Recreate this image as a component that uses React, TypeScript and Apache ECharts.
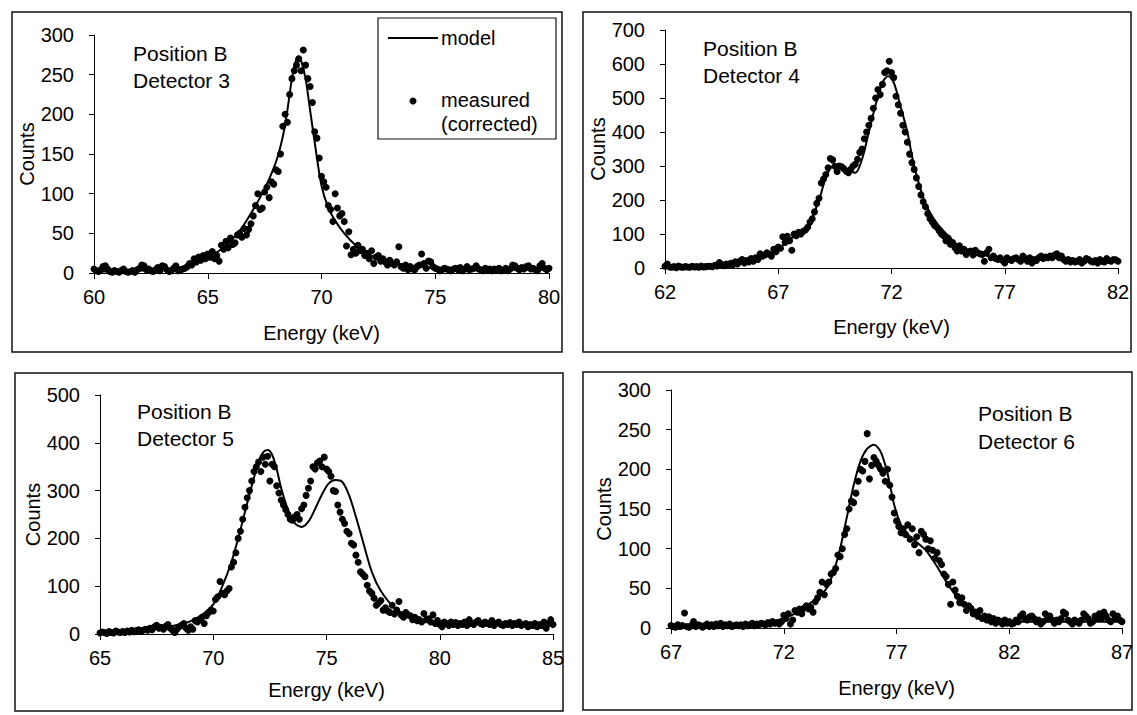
import React, { useEffect, useRef } from "react";
import * as echarts from "echarts";

const FONT = '"Liberation Sans", Arial, Helvetica, sans-serif';

// ---------------- data ----------------
const channelStep = 0.1;
const det3Start = 60;
const det4Start = 62;
const det5Start = 65;
const det6Start = 67;

// Detector 3 (60.0 .. 80.0 keV, 0.1 keV channels)
const det3Measured = [
  5, 3, 2, 4, 8, 9, 5, 2, 1, 3,
  2, 1, 3, 5, 2, 1, 2, 3, 1, 4,
  6, 10, 9, 4, 5, 3, 2, 4, 7, 3,
  9, 8, 4, 2, 3, 6, 9, 3, 4, 5,
  6, 8, 12, 10, 18, 14, 20, 16, 22, 18,
  24, 20, 27, 18, 22, 15, 35, 30, 40, 32,
  44, 36, 38, 48, 50, 45, 56, 48, 55, 62,
  72, 85, 100, 80, 82, 102, 108, 95, 115, 112,
  130, 128, 150, 185, 200, 190, 225, 245, 255, 262,
  270, 255, 281, 262, 245, 235, 215, 178, 170, 145,
  122, 115, 108, 85, 80, 65, 100, 82, 72, 75,
  65, 34, 52, 23, 30, 25, 35, 28, 30, 22,
  25, 18, 28, 12, 20, 22, 15, 18, 14, 10,
  16, 12, 10, 14, 33, 8, 6, 10, 4, 8,
  5, 4, 8, 10, 24, 12, 6, 15, 14, 8,
  6, 5, 3, 4, 6, 5, 4, 3, 5, 6,
  4, 7, 3, 5, 8, 4, 5, 6, 9, 5,
  4, 3, 6, 4, 5, 3, 5, 4, 6, 3,
  4, 6, 3, 5, 10, 9, 6, 4, 7, 5,
  8, 9, 5, 6, 4, 3, 9, 12, 6, 4,
  6,
];
const det3ModelEnergy = [60, 61, 62, 63, 64, 64.5, 65, 65.5, 66, 66.5, 67, 67.5, 68, 68.3, 68.5, 68.7, 68.9, 69.0, 69.1, 69.3, 69.5, 69.7, 70.0, 70.3, 70.6, 71.0, 71.5, 72.0, 72.5, 73.0, 73.5, 74, 75, 76, 77, 78, 79, 80];
const det3ModelCounts = [2, 2, 3, 4, 8, 13, 20, 28, 40, 57, 80, 106, 140, 172, 205, 245, 270, 273, 268, 245, 205, 165, 110, 82, 66, 50, 35, 25, 18, 14, 11, 9, 6, 5, 4, 4, 4, 4];

// Detector 4 (62.0 .. 82.0 keV)
const det4Measured = [
  5, 12, 3, 2, 4, 1, 6, 3, 2, 4,
  3, 2, 5, 3, 4, 2, 6, 3, 4, 5,
  5, 4, 8, 6, 16, 10, 7, 12, 8, 14,
  10, 18, 12, 20, 25, 15, 22, 18, 28, 20,
  30, 25, 42, 35, 38, 45, 40, 35, 55, 48,
  62, 58, 92, 75, 93, 80, 52, 100, 95, 105,
  100, 108, 112, 120, 135, 145, 165, 190, 205, 250,
  262, 275, 295, 322, 318, 299, 284, 300, 298, 292,
  285, 280, 290, 300, 305, 320, 340, 350, 380, 400,
  420, 440, 470, 500, 525, 510, 540, 575, 580, 608,
  575, 560, 505, 480, 455, 420, 400, 370, 335, 310,
  290, 265, 240, 215, 195, 180, 160, 145, 135, 125,
  120, 110, 100, 95, 80, 88, 70, 75, 60, 50,
  65, 50, 55, 40, 48, 50, 38, 52, 45, 42,
  40, 20, 45, 55, 30, 35, 28, 25, 30, 22,
  15, 30, 25, 22, 28, 30, 25, 20, 35, 28,
  20, 30, 15, 25, 22, 30, 35, 28, 32, 30,
  35, 30, 38, 42, 30, 35, 25, 20, 25, 18,
  22, 18, 20, 25, 15, 20, 28, 25, 20, 18,
  22, 15, 25, 20, 18, 28, 22, 20, 25, 24,
  20,
];
const det4ModelEnergy = [62, 63, 64, 65, 66, 66.5, 67, 67.5, 68, 68.4, 68.8, 69.1, 69.4, 69.7, 70.0, 70.4, 70.7, 71.0, 71.3, 71.6, 71.85, 72.1, 72.4, 72.7, 73.0, 73.5, 74.0, 74.6, 75.0, 75.8, 76.5, 77.5, 78.5, 79.5, 80.5, 81.5, 82];
const det4ModelCounts = [2, 3, 6, 12, 25, 38, 55, 85, 102, 135, 200, 265, 298, 297, 290, 280, 320, 400, 480, 545, 565, 545, 475, 400, 300, 190, 132, 88, 64, 44, 32, 28, 28, 30, 24, 20, 20];

// Detector 5 (65.0 .. 85.0 keV)
const det5Measured = [
  2, 4, 3, 1, 5, 3, 2, 6, 4, 3,
  5, 3, 6, 4, 8, 5, 7, 9, 6, 8,
  10, 8, 12, 9, 15, 18, 12, 14, 10, 16,
  20, 12, 8, 3, 10, 15, 18, 22, 12, 8,
  15, 10, 28, 25, 30, 35, 22, 38, 45, 50,
  48, 72, 78, 110, 85, 82, 90, 95, 140, 150,
  170, 200, 215, 240, 265, 285, 300, 320, 340, 350,
  360, 340, 370, 355, 372, 320, 355, 350, 310, 295,
  280, 270, 260, 250, 240, 238, 245, 250, 240, 262,
  270, 290, 305, 320, 350, 345, 358, 362, 350, 370,
  345, 340, 330, 300, 298, 270, 255, 240, 231, 215,
  210, 190, 186, 165, 150, 130, 125, 120, 102, 90,
  85, 75, 60, 65, 70, 50, 55, 48, 45, 60,
  42, 50, 68, 40, 35, 45, 40, 38, 30, 35,
  28, 30, 25, 43, 30, 32, 25, 40, 22, 28,
  20, 15, 25, 22, 18, 25, 20, 24, 18, 22,
  20, 25, 18, 30, 22, 20, 25, 28, 22, 20,
  25, 22, 20, 28, 18, 22, 25, 20, 18, 22,
  20, 24, 18, 22, 20, 25, 18, 20, 22, 15,
  20, 18, 22, 15, 20, 18, 25, 12, 22, 30,
  20,
];
const det5ModelEnergy = [65, 66, 67, 68, 68.5, 69, 69.5, 70, 70.4, 70.8, 71.1, 71.4, 71.7, 72.0, 72.2, 72.4, 72.6, 72.8, 73.0, 73.3, 73.6, 73.9, 74.2, 74.5, 74.8, 75.1, 75.4, 75.7, 76.0, 76.3, 76.6, 77.0, 77.4, 78.0, 78.6, 79.2, 80, 81, 82, 83, 84, 85];
const det5ModelCounts = [2, 5, 8, 15, 20, 27, 40, 62, 100, 150, 200, 255, 310, 360, 380, 385, 375, 345, 305, 260, 232, 224, 235, 262, 292, 315, 322, 318, 290, 245, 195, 130, 90, 55, 38, 30, 25, 22, 20, 20, 20, 20];

// Detector 6 (67.0 .. 87.0 keV)
const det6Measured = [
  3, 2, 1, 4, 2, 3, 19, 2, 1, 3,
  8, 2, 4, 3, 1, 3, 5, 2, 4, 2,
  5, 3, 6, 2, 4, 3, 5, 2, 3, 4,
  3, 4, 2, 5, 3, 4, 6, 3, 5, 4,
  6, 5, 4, 7, 5, 8, 6, 7, 5, 8,
  16, 12, 18, 5, 10, 22, 20, 24, 18, 25,
  28, 24, 26, 20, 33, 38, 45, 58, 42, 55,
  58, 68, 70, 75, 92, 90, 100, 118, 125, 150,
  160, 158, 170, 185, 200, 198, 210, 245, 188, 205,
  215, 210, 205, 200, 195, 185, 200, 180, 165, 145,
  135, 128, 120, 125, 118, 130, 112, 125, 105, 115,
  95, 122, 118, 112, 100, 110, 98, 88, 95, 85,
  80, 68, 65, 55, 30, 58, 48, 40, 32, 38,
  30, 22, 28, 25, 18, 20, 15, 22, 12, 15,
  10, 14, 8, 12, 6, 10, 8, 5, 10, 6,
  8, 5, 6, 10, 8, 15, 18, 12, 10, 14,
  15, 12, 8, 10, 5, 8, 18, 12, 15, 10,
  6, 10, 8, 12, 20, 18, 10, 8, 5, 10,
  8, 6, 10, 18, 15, 12, 6, 8, 15, 12,
  18, 12, 20, 15, 10, 8, 18, 12, 15, 10,
  8,
];
const det6ModelEnergy = [67, 68, 69, 70, 71, 71.5, 72, 72.5, 73, 73.5, 73.9, 74.2, 74.5, 74.8, 75.1, 75.4, 75.7, 76.0, 76.3, 76.6, 76.9, 77.2, 77.5, 77.9, 78.3, 78.7, 79.0, 79.4, 79.8, 80.2, 80.7, 81.2, 82, 83, 84, 85, 86, 87];
const det6ModelCounts = [2, 3, 3, 4, 6, 8, 12, 18, 28, 38, 50, 70, 100, 140, 180, 210, 226, 231, 222, 195, 155, 130, 118, 108, 98, 82, 68, 50, 35, 24, 15, 10, 8, 8, 8, 8, 8, 8];

// axes / labels
const detectorNames = ["Detector 3", "Detector 4", "Detector 5", "Detector 6"];
const positionName = "Position B";
const xAxisName = "Energy (keV)";
const yAxisName = "Counts";
const legendModel = "model";
const legendMeasured = "measured";
const legendMeasured2 = "(corrected)";
const xRanges = [
  [60, 80],
  [62, 82],
  [65, 85],
  [67, 87],
];
const xInterval = 5;
const yMaxes = [300, 700, 500, 300];
const yIntervals = [50, 100, 100, 50];

const measuredSets = [
  { start: det3Start, values: det3Measured },
  { start: det4Start, values: det4Measured },
  { start: det5Start, values: det5Measured },
  { start: det6Start, values: det6Measured },
];
const modelSets = [
  { e: det3ModelEnergy, c: det3ModelCounts },
  { e: det4ModelEnergy, c: det4ModelCounts },
  { e: det5ModelEnergy, c: det5ModelCounts },
  { e: det6ModelEnergy, c: det6ModelCounts },
];

// ---------------- layout ----------------
const layout = [
  { grid: { left: 94, top: 35, width: 455, height: 238 }, frame: [12, 12, 550, 340], text: [133, 53, 80], xGap: 50, yGap: 55 },
  { grid: { left: 665, top: 30, width: 453, height: 238 }, frame: [583, 12, 548, 340], text: [703, 48, 75], xGap: 49, yGap: 56 },
  { grid: { left: 100, top: 395, width: 453, height: 239 }, frame: [15, 373, 548, 338], text: [137, 411, 438], xGap: 46, yGap: 56 },
  { grid: { left: 671, top: 390, width: 451, height: 238 }, frame: [583, 372, 549, 338], text: [978, 413, 441], xGap: 50, yGap: 56 },
];

function textEl(text: string, x: number, y: number, size: number) {
  return {
    type: "text",
    silent: true,
    style: {
      text,
      x,
      y,
      fill: "#000",
      fontSize: size,
      fontFamily: FONT,
      align: "left",
      verticalAlign: "middle",
      textAlign: "left",
      textVerticalAlign: "middle",
    },
  };
}

function buildOption() {
  const grids: any[] = [];
  const xAxes: any[] = [];
  const yAxes: any[] = [];
  const series: any[] = [];
  const graphics: any[] = [];

  for (let i = 0; i < 4; i++) {
    const L = layout[i];
    grids.push({ ...L.grid, containLabel: false, show: false });
    xAxes.push({
      type: "value",
      gridIndex: i,
      min: xRanges[i][0],
      max: xRanges[i][1],
      interval: xInterval,
      name: xAxisName,
      nameLocation: "middle",
      nameGap: L.xGap,
      nameTextStyle: { color: "#000", fontSize: 20, fontFamily: FONT },
      axisLine: { show: true, onZero: false, lineStyle: { color: "#000", width: 1 } },
      axisTick: { show: true, inside: false, length: 6, lineStyle: { color: "#000", width: 1 } },
      axisLabel: { color: "#000", fontSize: 20, fontFamily: FONT, margin: 14, showMinLabel: true, showMaxLabel: true },
      splitLine: { show: false },
    });
    yAxes.push({
      type: "value",
      gridIndex: i,
      min: 0,
      max: yMaxes[i],
      interval: yIntervals[i],
      name: yAxisName,
      nameLocation: "middle",
      nameGap: L.yGap,
      nameTextStyle: { color: "#000", fontSize: 20, fontFamily: FONT },
      axisLine: { show: true, onZero: false, lineStyle: { color: "#000", width: 1 } },
      axisTick: { show: true, inside: false, length: 5, lineStyle: { color: "#000", width: 1 } },
      axisLabel: { color: "#000", fontSize: 20, fontFamily: FONT, margin: 20 },
      splitLine: { show: false },
    });

    const m = measuredSets[i];
    series.push({
      type: "scatter",
      name: legendMeasured,
      xAxisIndex: i,
      yAxisIndex: i,
      symbol: "circle",
      symbolSize: 7,
      itemStyle: { color: "#000", opacity: 1 },
      z: 2,
      data: m.values.map((c, k) => [Math.round((m.start + k * channelStep) * 100) / 100, c]),
    });
    const md = modelSets[i];
    series.push({
      type: "line",
      name: legendModel,
      xAxisIndex: i,
      yAxisIndex: i,
      showSymbol: false,
      symbol: "none",
      smooth: 0.3,
      lineStyle: { color: "#000", width: 2 },
      z: 3,
      data: md.e.map((e, k) => [e, md.c[k]]),
    });

    const [fx, fy, fw, fh] = L.frame;
    graphics.push({
      type: "rect",
      silent: true,
      shape: { x: fx, y: fy, width: fw, height: fh },
      style: { fill: "none", stroke: "#111", lineWidth: 1.5 },
    });
    const [tx, ty1, ty2] = L.text;
    graphics.push(textEl(positionName, tx, ty1, 21));
    graphics.push(textEl(detectorNames[i], tx, ty2, 21));
  }

  // legend box in panel 1
  graphics.push({
    type: "rect",
    silent: true,
    shape: { x: 378, y: 18, width: 178, height: 121 },
    style: { fill: "#fff", stroke: "#111", lineWidth: 1.2 },
    z: 10,
  });
  graphics.push({
    type: "line",
    silent: true,
    shape: { x1: 388, y1: 38, x2: 438, y2: 38 },
    style: { stroke: "#000", lineWidth: 2 },
    z: 11,
  });
  graphics.push({ ...textEl(legendModel, 441, 38, 20), z: 11 });
  graphics.push({
    type: "circle",
    silent: true,
    shape: { cx: 413, cy: 101, r: 3.5 },
    style: { fill: "#000" },
    z: 11,
  });
  graphics.push({ ...textEl(legendMeasured, 441, 100, 20), z: 11 });
  graphics.push({ ...textEl(legendMeasured2, 441, 124, 20), z: 11 });

  return {
    animation: false,
    backgroundColor: "#fff",
    grid: grids,
    xAxis: xAxes,
    yAxis: yAxes,
    series,
    graphic: { elements: graphics },
  };
}

export default function App() {
  const ref = useRef<HTMLDivElement>(null);
  useEffect(() => {
    if (!ref.current) return;
    const chart = echarts.init(ref.current, undefined, { renderer: "svg" });
    chart.setOption(buildOption() as any);
    return () => chart.dispose();
  }, []);
  return (
    <div
      ref={ref}
      style={{ position: "absolute", left: 0, top: 0, width: 1137, height: 715, background: "#fff" }}
    />
  );
}
